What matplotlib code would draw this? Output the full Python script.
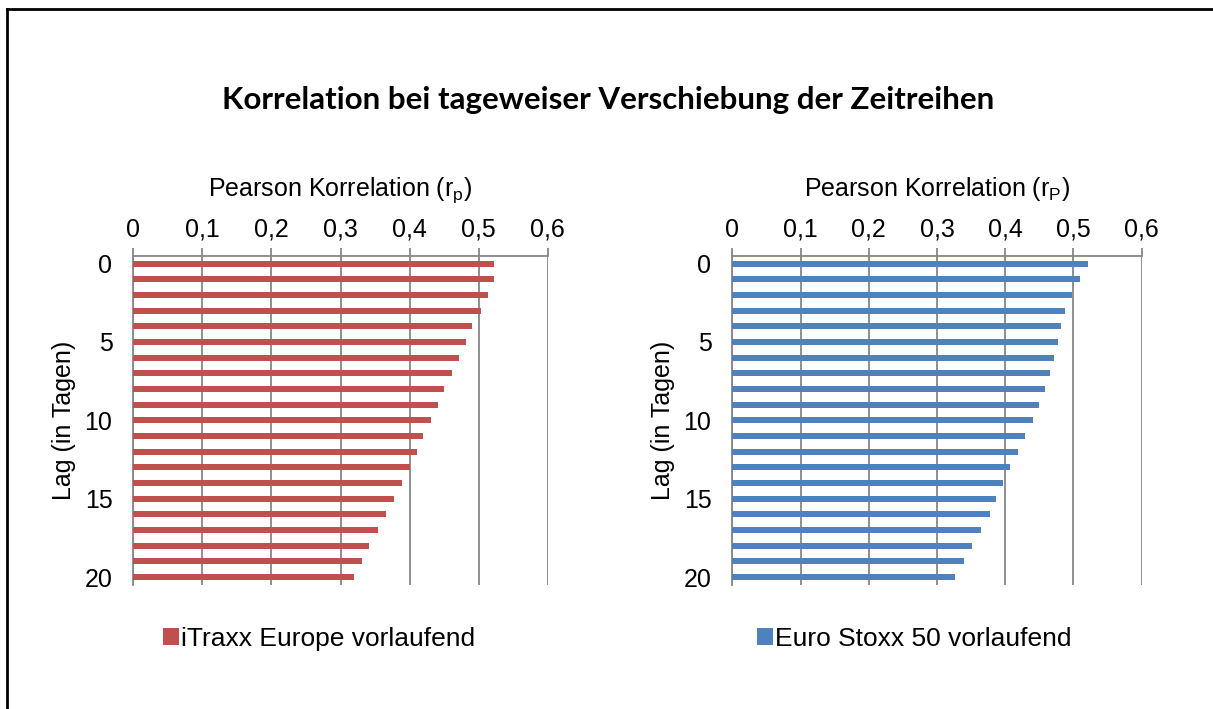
import matplotlib
matplotlib.use("Agg")
import matplotlib.pyplot as plt
from matplotlib.lines import Line2D
import numpy as np

lags = list(range(0, 21))
itraxx = [0.522, 0.522, 0.513, 0.504, 0.491, 0.482, 0.472, 0.461, 0.450, 0.441,
          0.431, 0.420, 0.411, 0.400, 0.389, 0.378, 0.366, 0.354, 0.341, 0.331, 0.320]
stoxx = [0.521, 0.509, 0.498, 0.488, 0.481, 0.477, 0.471, 0.466, 0.458, 0.449,
         0.440, 0.429, 0.418, 0.407, 0.397, 0.387, 0.377, 0.364, 0.352, 0.340, 0.326]
xticks = [0, 0.1, 0.2, 0.3, 0.4, 0.5, 0.6]
xticklabels = ["0", "0,1", "0,2", "0,3", "0,4", "0,5", "0,6"]
yticks = [0, 5, 10, 15, 20]

title = "Korrelation bei tageweiser Verschiebung der Zeitreihen"
xlabels = ["Pearson Korrelation (r$_\\mathregular{p}$)", "Pearson Korrelation (r$_\\mathregular{P}$)"]
ylabel = "Lag (in Tagen)"
legends = ["iTraxx Europe vorlaufend", "Euro Stoxx 50 vorlaufend"]
colors = ["#C0504D", "#4F81BD"]
series = [itraxx, stoxx]

W, H = 1213, 709
fig = plt.figure(figsize=(W / 100, H / 100), dpi=100)
fig.patch.set_facecolor("white")

font = "Liberation Sans"
grid_c = "#868686"
fs = 18

positions = [(133.3, 414.4), (732.3, 409.4)]
top_px, bot_px = 255.7, 585.0
legend_x = [163, 757]

for i, (x0, w) in enumerate(positions):
    ax = fig.add_axes([x0 / W, 1 - bot_px / H, w / W, (bot_px - top_px) / H])
    ax.barh(lags, series[i], height=0.38, color=colors[i], zorder=3,
            label=legends[i])
    ax.set_xlim(0, 0.6)
    ax.set_ylim(20.5, -0.5)
    ax.xaxis.tick_top()
    ax.xaxis.set_label_position("top")
    ax.set_xticks(xticks)
    ax.set_xticklabels(xticklabels, fontfamily=font, fontsize=fs)
    ax.set_yticks(yticks)
    ax.set_yticklabels([str(v) for v in yticks], fontfamily=font, fontsize=fs)
    ax.tick_params(axis="x", length=6, width=1.3, color=grid_c, pad=4, direction="out")
    ax.tick_params(axis="y", length=0, pad=15)
    ax.set_xlabel(xlabels[i], fontfamily=font, fontsize=fs, labelpad=16)
    ax.set_ylabel(ylabel, fontfamily=font, fontsize=fs, labelpad=6)
    ax.grid(axis="x", color=grid_c, linewidth=1.3, zorder=1)
    for s in ["right", "bottom"]:
        ax.spines[s].set_visible(False)
    for s in ["top", "left"]:
        ax.spines[s].set_color(grid_c)
        ax.spines[s].set_linewidth(1.3)
    leg = ax.legend(loc="center left",
                    bbox_to_anchor=(legend_x[i] / W, 1 - 639 / H),
                    bbox_transform=fig.transFigure, frameon=False,
                    prop={"family": font, "size": 19},
                    handlelength=0.6, handleheight=0.6, handletextpad=0.1,
                    borderaxespad=0, borderpad=0)

fig.text(608 / W, 1 - 100 / H, title, ha="center", va="center",
         fontfamily="Lato", fontweight="bold", fontsize=22.5)

# outer frame
fig.add_artist(Line2D([7 / W, 7 / W], [0, 1 - 9 / H], transform=fig.transFigure,
                      color="black", linewidth=2))
fig.add_artist(Line2D([7 / W, 1], [1 - 9 / H, 1 - 9 / H], transform=fig.transFigure,
                      color="black", linewidth=2))

fig.savefig("out.png", dpi=100, facecolor="white")
